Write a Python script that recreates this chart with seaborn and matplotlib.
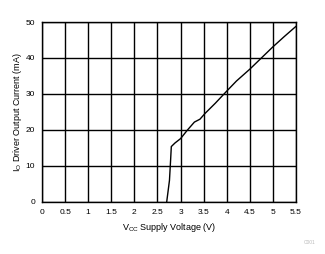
import matplotlib
matplotlib.use("Agg")
import matplotlib.pyplot as plt
import seaborn as sns
import pandas as pd

voltage = [2.70, 2.76, 2.785, 2.80, 2.88, 3.0, 3.15, 3.3, 3.42, 3.53, 3.75, 4.0, 4.21, 4.5, 4.75, 5.0, 5.25, 5.5]
current = [0, 6, 11.7, 15.4, 16.4, 17.6, 20, 22.2, 23, 24.6, 27.4, 30.8, 33.6, 36.9, 40, 43.1, 46, 48.8]
x_ticks = [0, 0.5, 1, 1.5, 2, 2.5, 3, 3.5, 4, 4.5, 5, 5.5]
x_tick_labels = ["0", "0.5", "1", "1.5", "2", "2.5", "3", "3.5", "4", "4.5", "5", "5.5"]
y_ticks = [0, 10, 20, 30, 40, 50]

sns.set_theme(style="white")
plt.rcParams['font.family'] = ['Liberation Sans', 'DejaVu Sans']

df = pd.DataFrame({"V": voltage, "I": current})

fig = plt.figure(figsize=(3.25, 2.54), dpi=100)
ax = fig.add_axes([42/325, 52/254, 254/325, 180/254])
sns.lineplot(data=df, x="V", y="I", ax=ax, color="black", linewidth=1.0, sort=False)

ax.set_xlim(0, 5.5)
ax.set_ylim(0, 50)
ax.set_xticks(x_ticks)
ax.set_xticklabels(x_tick_labels)
ax.set_yticks(y_ticks)
ax.grid(True, color="black", linewidth=1.0)
for s in ax.spines.values():
    s.set_color("black")
    s.set_linewidth(1.0)
ax.tick_params(axis="x", length=0, labelsize=6, colors="black", pad=5)
ax.tick_params(axis="y", length=0, labelsize=6, colors="black", pad=5)
ax.set_xlabel(r"V$_{\mathregular{CC}}$ Supply Voltage (V)", fontsize=6.5, color="black", labelpad=4)
ax.set_ylabel(r"I$_{\mathregular{O}}$ Driver Output Current (mA)", fontsize=6.5, color="black", labelpad=1)
fig.text(310/325, 1 - 242/254, "C001", fontsize=3.5, color="#bbbbbb", ha="center", va="center")

fig.savefig("out.png", dpi=100)
